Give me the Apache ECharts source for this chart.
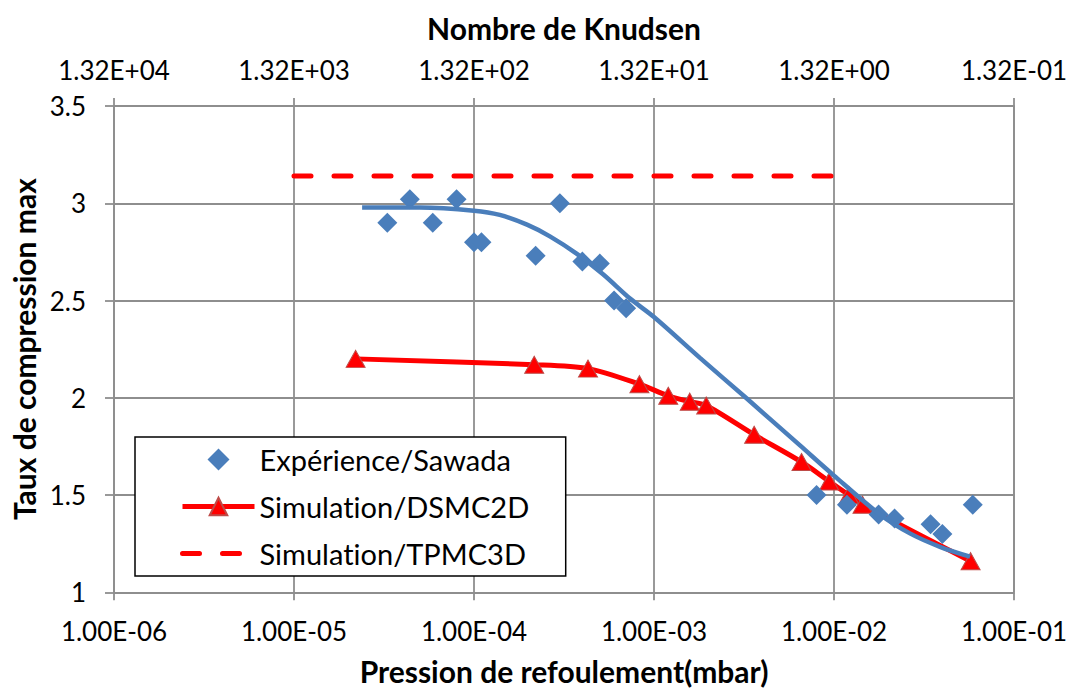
<!DOCTYPE html>
<html>
<head>
<meta charset="utf-8">
<script src="https://cdn.jsdelivr.net/npm/echarts@6/dist/echarts.min.js"></script>
<style>
  html, body { margin: 0; padding: 0; background: #ffffff; }
  #chart { width: 1068px; height: 690px; }
  #chart text { font-variant-ligatures: none; font-feature-settings: "liga" 0, "clig" 0; }
</style>
</head>
<body>
<div id="chart"></div>
<script>
// Taux de compression max en fonction de la pression de refoulement (mbar)

// Mesures expérimentales (Sawada)
const sawadaPressure = [3.3e-5, 4.4e-5, 5.9e-5, 8.0e-5, 1.0e-4, 1.1e-4, 2.2e-4, 3.0e-4,
  4.0e-4, 5.0e-4, 6.0e-4, 7.0e-4, 8.0e-3, 1.18e-2, 1.77e-2, 2.17e-2, 3.44e-2, 4.0e-2, 5.9e-2];
const sawadaRatio = [2.90, 3.02, 2.90, 3.02, 2.80, 2.80, 2.73, 3.00,
  2.70, 2.69, 2.50, 2.46, 1.50, 1.45, 1.40, 1.38, 1.35, 1.30, 1.45];

// Courbe de tendance des mesures
const fitPressure = [2.39e-5, 5.01e-5, 1.0e-4, 1.39e-4, 1.97e-4, 2.64e-4, 3.73e-4, 5.21e-4,
  7.36e-4, 1.0e-3, 1.80e-3, 3.29e-3, 6.47e-3, 1.0e-2, 1.80e-2, 2.64e-2, 3.88e-2, 5.70e-2];
const fitRatio = [2.978, 2.978, 2.962, 2.94, 2.89, 2.83, 2.74, 2.635,
  2.51, 2.415, 2.205, 1.995, 1.755, 1.60, 1.40, 1.303, 1.234, 1.183];

// Simulation DSMC 2D
const dsmcPressure = [2.2e-5, 2.16e-4, 4.3e-4, 8.3e-4, 1.2e-3, 1.58e-3, 1.95e-3,
  3.6e-3, 6.6e-3, 9.4e-3, 1.21e-2, 1.44e-2, 5.74e-2];
const dsmcRatio = [2.20, 2.17, 2.15, 2.07, 2.01, 1.98, 1.96,
  1.81, 1.67, 1.57, 1.50, 1.45, 1.16];

// Simulation TPMC 3D
const tpmcPressure = [1e-5, 1e-2];
const tpmcRatio = [3.14, 3.14];

// Graduations : pression (bas) et nombre de Knudsen (haut)
const pressureTicks = ['1.00E-06', '1.00E-05', '1.00E-04', '1.00E-03', '1.00E-02', '1.00E-01'];
const knudsenTicks = ['1.32E+04', '1.32E+03', '1.32E+02', '1.32E+01', '1.32E+00', '1.32E-01'];

const seriesNames = ['Expérience/Sawada', 'Simulation/DSMC2D', 'Simulation/TPMC3D'];

const FONT = 'Lato';
const GRID_COLOR = '#8e8e8e';
const BLUE = '#4a7ebb';
const RED = '#ff0000';
const TRI_BORDER = '#be4b48';

const zip = (xs, ys) => xs.map((x, i) => [x, ys[i]]);
const decadeIndex = v => Math.round(Math.log10(v)) + 6;

const gridLine = { color: GRID_COLOR, width: 1.8 };
const titleStyle = { fontFamily: FONT, fontSize: 30, fontWeight: 'bold', color: '#000000', lineHeight: 28 };
const tickStyle = { fontFamily: FONT, fontSize: 26, color: '#000000' };

const chart = echarts.init(document.getElementById('chart'), null, { renderer: 'svg' });

chart.setOption({
  animation: false,
  backgroundColor: '#ffffff',
  grid: { left: 114, right: 54, top: 106, bottom: 97.7, containLabel: false, outerBoundsMode: 'none' },
  legend: {
    data: [
      { name: seriesNames[0], icon: 'path://M10,0L20,10L10,20L0,10Z', itemStyle: { color: BLUE } },
      { name: seriesNames[1] },
      { name: seriesNames[2], itemStyle: { opacity: 0 } }
    ],
    orient: 'vertical',
    left: 135,
    top: 437,
    padding: [8, 36, 8, 45],
    itemWidth: 72,
    itemHeight: 22,
    itemGap: 18,
    symbolKeepAspect: true,
    backgroundColor: '#ffffff',
    borderColor: '#000000',
    borderWidth: 1.5,
    borderRadius: 0,
    selectedMode: false,
    lineStyle: { width: 5 },
    textStyle: { fontFamily: FONT, fontSize: 29, color: '#000000', lineHeight: 26 }
  },
  xAxis: [
    {
      type: 'log',
      logBase: 10,
      min: 1e-6,
      max: 1e-1,
      splitNumber: 5,
      position: 'bottom',
      name: 'Pression de refoulement(mbar)',
      nameLocation: 'middle',
      nameGap: 65,
      nameTextStyle: titleStyle,
      axisLine: { show: true, lineStyle: gridLine },
      axisTick: { show: true, length: 8, lineStyle: gridLine },
      minorTick: { show: false },
      axisLabel: Object.assign({ margin: 26, formatter: v => pressureTicks[decadeIndex(v)] }, tickStyle),
      splitLine: { show: true, lineStyle: gridLine }
    },
    {
      type: 'log',
      logBase: 10,
      min: 1e-6,
      max: 1e-1,
      splitNumber: 5,
      position: 'top',
      name: 'Nombre de Knudsen',
      nameLocation: 'middle',
      nameGap: 64,
      nameTextStyle: titleStyle,
      axisLine: { show: true, lineStyle: gridLine },
      axisTick: { show: true, length: 8, lineStyle: gridLine },
      axisLabel: Object.assign({ margin: 23, formatter: v => knudsenTicks[decadeIndex(v)] }, tickStyle),
      splitLine: { show: false }
    }
  ],
  yAxis: {
    type: 'value',
    min: 1,
    max: 3.5,
    interval: 0.5,
    name: 'Taux de compression max',
    nameLocation: 'middle',
    nameGap: 70,
    nameTextStyle: titleStyle,
    axisLine: { show: true, lineStyle: gridLine },
    axisTick: { show: true, length: 9, lineStyle: gridLine },
    axisLabel: Object.assign({ margin: 28 }, tickStyle),
    splitLine: { show: true, lineStyle: gridLine }
  },
  series: [
    {
      name: seriesNames[0],
      type: 'scatter',
      xAxisIndex: 0,
      data: zip(sawadaPressure, sawadaRatio),
      symbol: 'diamond',
      symbolSize: 20,
      itemStyle: { color: BLUE, opacity: 1 },
      z: 4
    },
    {
      name: seriesNames[1],
      type: 'line',
      xAxisIndex: 0,
      data: zip(dsmcPressure, dsmcRatio),
      smooth: 0.3,
      symbol: 'triangle',
      symbolSize: [19, 17],
      showAllSymbol: true,
      lineStyle: { color: RED, width: 5 },
      itemStyle: { color: RED, borderColor: TRI_BORDER, borderWidth: 1 },
      z: 3
    },
    {
      name: seriesNames[2],
      type: 'line',
      xAxisIndex: 0,
      data: zip(tpmcPressure, tpmcRatio),
      symbol: 'none',
      lineStyle: { color: RED, width: 5, type: [17, 23], cap: 'round' },
      itemStyle: { color: RED },
      z: 3
    },
    {
      name: 'Tendance Sawada',
      type: 'line',
      xAxisIndex: 0,
      data: zip(fitPressure, fitRatio),
      smooth: 0.3,
      symbol: 'none',
      lineStyle: { color: BLUE, width: 4.5 },
      itemStyle: { color: BLUE },
      z: 5
    }
  ]
});
</script>
</body>
</html>
